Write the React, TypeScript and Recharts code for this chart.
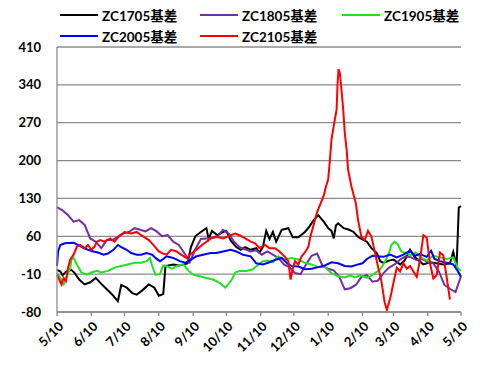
import React from 'react';
import { LineChart, Line, XAxis, YAxis, CartesianGrid } from 'recharts';

// day offsets from 5/10, one tick per month
const monthTicks = [0, 31, 61, 92, 123, 153, 184, 214, 245, 276, 304, 335, 365];
const monthLabels = ['5/10', '6/10', '7/10', '8/10', '9/10', '10/10', '11/10', '12/10', '1/10', '2/10', '3/10', '4/10', '5/10'];
const yTicks = [-80, -10, 60, 130, 200, 270, 340, 410];

// [day, basis] pairs
const zc1705: [number, number][] = [
  [0, -2], [3, -5], [5, -12], [8, -6], [13, -2], [16, -8], [20, -20], [25, -29], [30, -25], [35, -17],
  [40, -28], [45, -38], [50, -48], [55, -60], [58, -30], [63, -35], [68, -45], [72, -48], [77, -40], [83, -29],
  [88, -35], [92, -50], [96, -47], [98, 5], [105, 8], [110, 6], [115, 8], [118, 10], [121, 40], [125, 60],
  [130, 68], [135, 75], [137, 55], [140, 70], [145, 62], [150, 68], [153, 70], [157, 52], [162, 40], [166, 35],
  [170, 40], [175, 35], [180, 38], [183, 30], [186, 40], [189, 70], [192, 55], [195, 68], [198, 50], [203, 72],
  [209, 75], [213, 58], [218, 58], [224, 68], [228, 78], [232, 90], [236, 99], [241, 87], [245, 75], [248, 70],
  [250, 56], [252, 80], [254, 84], [259, 75], [264, 72], [268, 68], [272, 59], [275, 55], [280, 50], [284, 38],
  [289, 29], [292, 14], [295, 11], [300, 15], [304, 17], [310, 8], [314, 15], [319, 35], [323, 22], [327, 15],
  [331, 8], [337, 12], [343, 10], [349, 8], [355, 10], [358, 31], [361, 4], [363, 113], [365, 116],
];

const zc1805: [number, number][] = [
  [0, 114], [5, 108], [10, 99], [15, 87], [20, 90], [25, 81], [30, 56], [35, 50], [40, 38], [45, 53],
  [50, 53], [55, 59], [60, 65], [65, 68], [70, 75], [75, 72], [80, 69], [85, 75], [90, 69], [95, 60],
  [100, 62], [105, 50], [110, 44], [115, 29], [120, 12], [125, 36], [130, 55], [135, 56], [140, 57], [145, 60],
  [150, 72], [155, 65], [160, 50], [165, 40], [170, 36], [175, 32], [180, 34], [185, 26], [190, 32], [195, 26],
  [200, 20], [205, 8], [210, 3], [215, -8], [220, -10], [225, 8], [230, 24], [235, 28], [240, 5], [245, 0],
  [250, -3], [255, -15], [260, -38], [265, -36], [270, -30], [275, -15], [280, -12], [285, -24], [290, -22], [295, -8],
  [300, 2], [305, 8], [310, 17], [315, 23], [320, 21], [325, 16], [330, 18], [335, 12], [340, 10], [345, -5],
  [350, -30], [355, -37], [360, -43], [365, -14],
];

const zc1905: [number, number][] = [
  [0, -8], [3, -17], [6, -29], [9, -14], [12, 2], [13, 17], [15, 20], [18, 8], [22, -7], [27, -11],
  [31, -7], [36, -4], [40, -7], [46, -4], [52, 2], [58, 5], [64, 8], [70, 11], [76, 11], [81, 14],
  [84, 20], [86, 5], [89, -11], [93, -10], [96, 6], [99, 5], [104, 0], [108, 5], [114, 8], [119, -4],
  [123, -11], [129, -14], [135, -17], [141, -20], [147, -26], [152, -35], [155, -28], [158, -20], [161, -7], [165, -4],
  [171, -4], [177, -1], [182, 8], [186, 14], [190, 15], [195, 12], [200, 23], [205, 17], [212, 20], [218, 17],
  [224, 11], [230, 8], [236, 3], [242, 3], [248, -8], [254, -14], [260, -16], [265, -12], [269, -16], [274, -12],
  [280, -17], [286, -10], [292, -1], [296, 12], [300, 29], [302, 44], [305, 50], [308, 45], [311, 32], [316, 29],
  [319, 25], [324, 30], [328, 22], [334, 15], [340, 24], [346, 21], [352, 18], [358, 21], [362, 2], [365, -4],
];

const zc2005: [number, number][] = [
  [0, 5], [1, 32], [3, 44], [7, 47], [15, 48], [19, 44], [24, 38], [28, 35], [33, 32], [37, 30],
  [42, 26], [46, 28], [51, 35], [55, 44], [58, 40], [63, 35], [67, 29], [72, 26], [76, 26], [81, 29],
  [86, 26], [89, 20], [93, 14], [96, 18], [99, 23], [105, 20], [111, 14], [116, 11], [121, 17], [126, 23],
  [132, 26], [139, 29], [144, 29], [150, 32], [157, 35], [162, 32], [168, 26], [175, 23], [180, 10], [186, 8],
  [192, 12], [198, 17], [203, 20], [208, 10], [212, 5], [218, 4], [224, -1], [230, 0], [236, 3], [242, 6],
  [248, 12], [254, 10], [260, 5], [266, 4], [272, 8], [276, 10], [280, 18], [285, 24], [289, 23], [295, 22],
  [301, 26], [307, 21], [313, 26], [319, 33], [323, 24], [328, 27], [334, 22], [338, 33], [341, 18], [346, 14],
  [352, 11], [358, 8], [362, -4], [365, -15],
];

const zc2105: [number, number][] = [
  [0, -11], [2, -20], [4, -29], [6, -17], [8, -23], [10, 2], [12, 17], [15, 26], [18, 41], [21, 44],
  [25, 38], [28, 44], [31, 35], [34, 41], [36, 50], [39, 53], [43, 50], [48, 56], [52, 50], [57, 62],
  [61, 68], [67, 65], [72, 68], [76, 62], [83, 53], [87, 44], [92, 32], [96, 28], [99, 26], [103, 35],
  [108, 32], [112, 26], [117, 20], [122, 29], [126, 35], [131, 44], [135, 50], [139, 56], [144, 59], [150, 56],
  [157, 62], [161, 65], [165, 62], [170, 56], [175, 50], [179, 47], [183, 38], [188, 44], [192, 38], [197, 38],
  [201, 32], [206, 22], [209, 14], [211, -20], [213, 0], [215, 14], [218, 8], [221, 23], [224, 30], [227, 40],
  [229, 60], [232, 82], [235, 105], [238, 120], [241, 135], [243, 152], [245, 165], [246.6, 202], [248, 239], [251, 276],
  [252.6, 294], [253.5, 343], [254.4, 369], [255.6, 361], [257, 331], [258.6, 294], [260, 251], [261.7, 220], [263, 183], [266, 152],
  [270, 121], [272, 90], [275, 59], [278, 53], [281, 70], [284, 60], [287, 32], [290, 4], [293, -22], [296, -62],
  [298, -76], [301, -55], [304, -26], [307, 2], [310, -5], [313, 10], [316, 0], [319, 5], [322, -5], [325, -15],
  [328, 17], [331, 62], [334, 58], [337, 10], [340, -18], [343, -12], [346, 30], [349, 25], [352, -15], [355, -57],
];

const series = [
  { name: 'ZC1705基差', color: '#000000', points: zc1705 },
  { name: 'ZC1805基差', color: '#7030A0', points: zc1805 },
  { name: 'ZC1905基差', color: '#22E022', points: zc1905 },
  { name: 'ZC2005基差', color: '#0000FF', points: zc2005 },
  { name: 'ZC2105基差', color: '#FF0000', points: zc2105 },
];

const font = 'Lato, "Noto Sans CJK SC", sans-serif';
const gridColor = '#8c8c8c';

// legend positions in the header (two rows)
const legendPos = [
  { left: 60, top: 15 }, { left: 200, top: 15 }, { left: 342, top: 15 },
  { left: 60, top: 36 }, { left: 200, top: 36 },
];

const XTick = ({ x, y, payload }: any) => {
  const label = monthLabels[monthTicks.indexOf(payload.value)];
  return (
    <text x={x + 4} y={y + 6} textAnchor="end" transform={`rotate(-45 ${x + 4} ${y + 6})`}
      fontFamily={font} fontWeight="bold" fontSize={13} fill="#000" dy="0.35em">
      {label}
    </text>
  );
};

export default function App() {
  return (
    <div style={{ position: 'absolute', left: 0, top: 0, width: 501, height: 365, background: '#fff' }}>
      <LineChart width={501} height={365} margin={{ top: 47, right: 40, bottom: 0, left: 0 }}>
        <CartesianGrid vertical={false} stroke={gridColor} strokeWidth={1.3} />
        <XAxis
          type="number"
          dataKey="day"
          domain={[0, 365]}
          ticks={monthTicks}
          height={53}
          interval={0}
          stroke={gridColor}
          strokeWidth={1.3}
          tickSize={4}
          tick={<XTick />}
        />
        <YAxis
          type="number"
          domain={[-80, 410]}
          ticks={yTicks}
          width={57}
          interval={0}
          stroke={gridColor}
          strokeWidth={1.3}
          tickLine={false}
          tickSize={0}
          tickMargin={16}
          tick={{ fill: '#000', fontFamily: font, fontWeight: 'bold', fontSize: 13 }}
        />
        {series.map((s) => (
          <Line
            key={s.name}
            data={s.points.map(([day, v]) => ({ day, v }))}
            dataKey="v"
            name={s.name}
            type="linear"
            stroke={s.color}
            strokeWidth={2}
            dot={false}
            isAnimationActive={false}
          />
        ))}
      </LineChart>
      {series.map((s, i) => (
        <div key={s.name} style={{ position: 'absolute', left: legendPos[i].left, top: legendPos[i].top - 9, height: 18, display: 'flex', alignItems: 'center', fontFamily: font, fontWeight: 'bold', fontSize: 13.5, color: '#000', whiteSpace: 'nowrap' }}>
          <div style={{ width: 38, height: 2, background: s.color, marginRight: 4 }} />
          <span>{s.name}</span>
        </div>
      ))}
    </div>
  );
}
